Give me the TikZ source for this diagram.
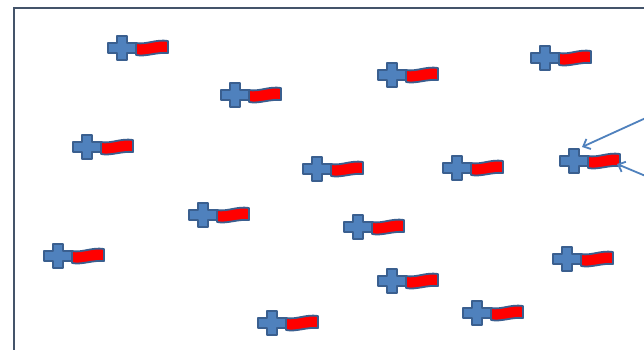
\documentclass[tikz,border=0pt]{standalone}
\usepackage{tikz}
\usetikzlibrary{arrows.meta}

\definecolor{plusblue}{HTML}{4F81BD}
\definecolor{edgeblue}{HTML}{3A5F8F}
\definecolor{framegray}{HTML}{44546A}

\begin{document}
\begin{tikzpicture}[x=1pt,y=-1pt]

	\tikzset{
		pcharge/.style={
				draw=edgeblue, fill=plusblue, line width=1.8pt, line join=round
			},
		ncharge/.style={
				draw=edgeblue, fill=red, line width=1.8pt, line join=round
			},
		pointer/.style={
				draw=plusblue, line width=1.8pt, -{Straight Barb[length=6pt,width=11pt]}
			},
		frame/.style={
				draw=framegray, line width=2.2pt
			},
		dipole/.pic={
				\draw[pcharge] (-14,-5) -- (-5,-5) -- (-5,-12) -- (5,-12) -- (5,-5) -- (14,-5)
					-- (14,5) -- (5,5) -- (5,12) -- (-5,12) -- (-5,5) -- (-14,5) -- cycle;
				\draw[ncharge] (14,-5) .. controls (24,-3) and (34,-9) .. (46,-7)
					-- (46,5) .. controls (34,4) and (24,9) .. (14,7) -- cycle;
				\coordinate (-plus) at (8,-14);
				\coordinate (-minus) at (43,3);
			},
	}

	\useasboundingbox (0,0) rectangle (644,350);
	\clip (0,0) rectangle (644,350);
	\fill[white] (0,0) rectangle (644,350);

	\draw[frame] (14,8) rectangle (670,370);

	% top row
	\pic (d1) at (122,48) {dipole};
	\pic (d2) at (235,95) {dipole};
	\pic (d3) at (392,75) {dipole};
	\pic (d4) at (545,58) {dipole};

	% middle rows
	\pic (d5) at (87,147) {dipole};
	\pic (d6) at (317,169) {dipole};
	\pic (d7) at (457,168) {dipole};
	\pic (d8) at (574,161) {dipole};
	\pic (d9) at (203,215) {dipole};
	\pic (d10) at (358,227) {dipole};

	% bottom rows
	\pic (d11) at (58,256) {dipole};
	\pic (d12) at (392,281) {dipole};
	\pic (d13) at (567,259) {dipole};
	\pic (d14) at (272,323) {dipole};
	\pic (d15) at (477,313) {dipole};

	\coordinate (a1) at (648,117);
	\coordinate (a2) at (648,177);
	\draw[pointer] (a1) -- (d8-plus);
	\draw[pointer] (a2) -- (d8-minus);

\end{tikzpicture}
\end{document}
